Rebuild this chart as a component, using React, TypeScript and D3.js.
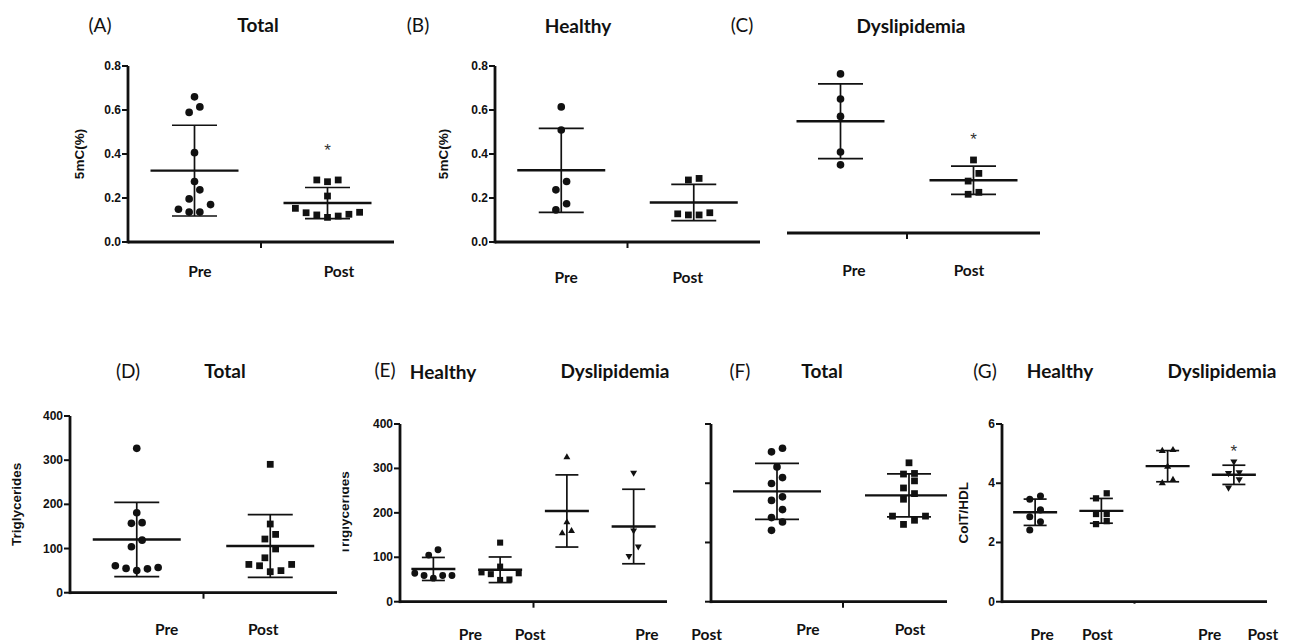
import React from "react";
import * as d3 from "d3";

// 5mC (%) — panels A, B, C
const mcTotalPre = [0.66, 0.614, 0.589, 0.406, 0.275, 0.237, 0.196, 0.17, 0.149, 0.136, 0.136];
const mcTotalPost = [0.282, 0.282, 0.274, 0.209, 0.153, 0.135, 0.133, 0.126, 0.123, 0.118, 0.112];
const mcHealthyPre = [0.614, 0.509, 0.275, 0.237, 0.174, 0.146];
const mcHealthyPost = [0.289, 0.282, 0.133, 0.123, 0.123, 0.128];
const mcDysPre = [0.723, 0.609, 0.53, 0.368, 0.31];
const mcDysPost = [0.332, 0.271, 0.236, 0.185, 0.176];

// Triglycerides — panels D, E
const tgTotalPre = [326.8, 181, 158.5, 157, 119, 104, 61, 55, 50, 54, 57];
const tgTotalPost = [290.6, 155.5, 132, 121.5, 99, 79, 64, 61, 64, 47.5, 50];
const tgHealthyPre = [117, 105, 64, 59, 53, 59, 59];
const tgHealthyPost = [133, 79, 66, 62, 64, 50, 49];
const tgDysPre = [325, 179, 154, 159];
const tgDysPost = [290, 160, 124, 103];

// ColT/HDL — panels F, G
const chTotalPre = [5.18, 5.06, 4.55, 4.19, 3.99, 3.42, 3.54, 3.11, 2.69, 2.84, 2.41];
const chTotalPost = [4.69, 4.33, 4.31, 4.08, 3.84, 3.65, 3.46, 2.89, 2.89, 2.75, 2.61];
const chHealthyPre = [3.46, 3.57, 3.1, 2.87, 2.7, 2.42];
const chHealthyPost = [3.66, 3.49, 2.96, 2.96, 2.62, 2.72];
const chDysPre = [5.09, 5.12, 4.56, 4.0, 4.11];
const chDysPost = [4.73, 4.37, 4.34, 4.13, 3.85];

// significance marks (y level of the "*")
const starTotalPost = 0.436;
const starDysPost = 0.445;
const starChDysPost = 5.21;

const mcTicks = [0, 0.2, 0.4, 0.6, 0.8];
const tgTicks = [0, 100, 200, 300, 400];
const chTicks = [0, 2, 4, 6];
const timeLabels = ["Pre", "Post"];

const INK = "#111";
const TEXT_FONT = "Lato, 'Open Sans', sans-serif";
const AXIS_FONT = "'Liberation Sans', Arial, sans-serif";

const shapes: any = {
  circle: d3.symbolCircle,
  square: d3.symbolSquare,
  triangle: d3.symbolTriangle,
  down: d3.symbolTriangle,
};
const shapeSize: any = { circle: 46, square: 46, triangle: 26, down: 26 };

// GraphPad-like scatter: bin points into rows, spread each row sideways
function rowOffsets(values: number[], y: (v: number) => number, rowH: number, step: number) {
  const idx = d3.range(values.length).sort((a, b) => values[a] - values[b]);
  const out = new Array(values.length).fill(0);
  let row: number[] = [];
  const flush = () => {
    const n = row.length;
    row.forEach((id, r) => {
      let k: number;
      if (n % 2 === 1) k = r === 0 ? 0 : r % 2 === 1 ? (r + 1) / 2 : -r / 2;
      else k = (r % 2 === 0 ? -1 : 1) * (Math.floor(r / 2) + 0.5);
      out[id] = k * step;
    });
    row = [];
  };
  idx.forEach((id) => {
    if (row.length && y(values[row[0]]) - y(values[id]) >= rowH) flush();
    row.push(id);
  });
  flush();
  return out;
}

type Group = { key: string; values: number[]; shape: string; star?: number };

const panels: any[] = [
  {
    id: "A",
    groups: [
      { key: "Pre", values: mcTotalPre, shape: "circle" },
      { key: "Post", values: mcTotalPost, shape: "square", star: starTotalPost },
    ],
    xRange: [128, 394], axisTo: 394, yDomain: [0, 0.8], yRange: [242, 66],
    ticks: mcTicks, fmt: d3.format(".1f"), yLabel: "5mC(%)", yLabelX: 79,
    labels: timeLabels, labelDx: [5.5, 11.5], labelY: 277,
    meanHalf: 44, capHalf: 22.5, step: 10.7, scale: 1, midTick: 6,
  },
  {
    id: "B",
    groups: [
      { key: "Pre", values: mcHealthyPre, shape: "circle" },
      { key: "Post", values: mcHealthyPost, shape: "square" },
    ],
    xRange: [495, 760], axisTo: 760, yDomain: [0, 0.8], yRange: [242, 66],
    ticks: mcTicks, fmt: d3.format(".1f"), yLabel: "5mC(%)", yLabelX: 443,
    labels: timeLabels, labelDx: [5, -6], labelY: 283,
    meanHalf: 44, capHalf: 22.5, step: 10.7, scale: 1, midTick: 6,
  },
  {
    id: "C",
    groups: [
      { key: "Pre", values: mcDysPre, shape: "circle" },
      { key: "Post", values: mcDysPost, shape: "square", star: starDysPost },
    ],
    xRange: [774, 1040], axisFrom: 787, axisTo: 1040, yDomain: [0, 0.8], yRange: [233, 57],
    noYAxis: true,
    labels: timeLabels, labelDx: [13.5, -4.5], labelY: 276,
    meanHalf: 44, capHalf: 22.5, step: 10.7, scale: 1, midTick: 6,
  },
  {
    id: "D",
    groups: [
      { key: "Pre", values: tgTotalPre, shape: "circle" },
      { key: "Post", values: tgTotalPost, shape: "square" },
    ],
    xRange: [70, 337], axisTo: 337, yDomain: [0, 400], yRange: [592.7, 416],
    ticks: tgTicks, fmt: d3.format("d"), yLabel: "Triglycerides", yLabelX: 16,
    labels: timeLabels, labelDx: [30, -7], labelY: 635,
    meanHalf: 44, capHalf: 22.5, step: 10.7, scale: 1, midTick: 6,
  },
  {
    id: "E",
    groups: [
      { key: "HPre", values: tgHealthyPre, shape: "circle" },
      { key: "HPost", values: tgHealthyPost, shape: "square" },
      { key: "DPre", values: tgDysPre, shape: "triangle" },
      { key: "DPost", values: tgDysPost, shape: "down" },
    ],
    xRange: [400, 667], axisTo: 667, yDomain: [0, 400], yRange: [601.7, 424],
    ticks: tgTicks, fmt: d3.format("d"), yLabel: "Triglycerides", yLabelX: 344.3, yLabelClip: 342.5,
    labels: [...timeLabels, ...timeLabels], labelDx: [37, 30, 80, 73], labelY: 640,
    meanHalf: 22, capHalf: 11.5, step: 9.3, scale: 0.8, midTick: 6,
  },
  {
    id: "F",
    groups: [
      { key: "Pre", values: chTotalPre, shape: "circle" },
      { key: "Post", values: chTotalPost, shape: "square" },
    ],
    xRange: [711, 975], axisTo: 947, yDomain: [0, 6], yRange: [601.7, 424],
    ticks: chTicks, noTickLabels: true,
    labels: timeLabels, labelDx: [31, 1], labelY: 635,
    meanHalf: 44, capHalf: 22, step: 11, scale: 1, midTick: 6, clipRight: 947,
  },
  {
    id: "G",
    groups: [
      { key: "HPre", values: chHealthyPre, shape: "circle" },
      { key: "HPost", values: chHealthyPost, shape: "square" },
      { key: "DPre", values: chDysPre, shape: "triangle" },
      { key: "DPost", values: chDysPost, shape: "down", star: starChDysPost },
    ],
    xRange: [1002, 1267], axisTo: 1267, yDomain: [0, 6], yRange: [601.7, 424],
    ticks: chTicks, fmt: d3.format("d"), yLabel: "ColT/HDL", yLabelX: 963,
    labels: [...timeLabels, ...timeLabels], labelDx: [7, -4, 42, 29], labelY: 640,
    meanHalf: 22, capHalf: 11.5, step: 10.7, scale: 0.85, midTick: 2,
  },
];

const titles = [
  { t: "(A)", x: 100, y: 32 }, { t: "Total", x: 258, y: 32, b: true },
  { t: "(B)", x: 418, y: 32 }, { t: "Healthy", x: 578, y: 33, b: true },
  { t: "(C)", x: 742, y: 32 }, { t: "Dyslipidemia", x: 911, y: 33, b: true },
  { t: "(D)", x: 128, y: 378 }, { t: "Total", x: 225, y: 378, b: true },
  { t: "(E)", x: 385, y: 377 }, { t: "Healthy", x: 443, y: 379, b: true },
  { t: "Dyslipidemia", x: 615, y: 378, b: true },
  { t: "(F)", x: 740, y: 378 }, { t: "Total", x: 822, y: 378, b: true },
  { t: "(G)", x: 985, y: 378 }, { t: "Healthy", x: 1060, y: 378, b: true },
  { t: "Dyslipidemia", x: 1222, y: 378, b: true },
];

function Panel({ cfg }: { cfg: any }) {
  const x = d3.scaleBand<string>().domain(cfg.groups.map((g: Group) => g.key)).range(cfg.xRange);
  const y = d3.scaleLinear().domain(cfg.yDomain).range(cfg.yRange);
  const base = cfg.yRange[0];
  const x0 = cfg.xRange[0];
  const xMid = (cfg.xRange[0] + cfg.xRange[1]) / 2;
  const axisFrom = cfg.axisFrom ?? x0;
  const clipId = `clip-${cfg.id}`;

  return (
    <g>
      {cfg.clipRight && (
        <defs>
          <clipPath id={clipId}>
            <rect x={0} y={0} width={cfg.clipRight} height={642} />
          </clipPath>
        </defs>
      )}
      <g clipPath={cfg.clipRight ? `url(#${clipId})` : undefined}>
        {cfg.groups.map((g: Group) => {
          const cx = (x(g.key) as number) + x.bandwidth() / 2;
          const m = d3.mean(g.values) as number;
          const sd = d3.deviation(g.values) as number;
          const offs = rowOffsets(g.values, y, 9.5, cfg.step);
          const sym = d3.symbol().type(shapes[g.shape]).size(shapeSize[g.shape] * cfg.scale)() as string;
          return (
            <g key={g.key}>
              {g.values.map((v, i) => (
                <path
                  key={i}
                  d={sym}
                  fill={INK}
                  transform={`translate(${cx + offs[i]},${y(v)})${g.shape === "down" ? " rotate(180)" : ""}`}
                />
              ))}
              <line x1={cx} x2={cx} y1={y(m + sd)} y2={y(m - sd)} stroke={INK} strokeWidth={1.7} />
              <line x1={cx - cfg.capHalf} x2={cx + cfg.capHalf} y1={y(m + sd)} y2={y(m + sd)} stroke={INK} strokeWidth={1.7} />
              <line x1={cx - cfg.capHalf} x2={cx + cfg.capHalf} y1={y(m - sd)} y2={y(m - sd)} stroke={INK} strokeWidth={1.7} />
              <line x1={cx - cfg.meanHalf} x2={cx + cfg.meanHalf} y1={y(m)} y2={y(m)} stroke={INK} strokeWidth={2.4} />
              {g.star !== undefined && (
                <text x={cx} y={y(g.star) + 9.5} textAnchor="middle" fontFamily={AXIS_FONT} fontSize={17} fill="#333">
                  *
                </text>
              )}
            </g>
          );
        })}
      </g>

      {/* x axis */}
      <line x1={axisFrom} x2={cfg.axisTo} y1={base} y2={base} stroke={INK} strokeWidth={2.8} />
      <line x1={xMid} x2={xMid} y1={base} y2={base + cfg.midTick} stroke={INK} strokeWidth={2} />
      {cfg.labels.map((t: string, i: number) => {
        const key = cfg.groups[i].key;
        return (
          <text
            key={i}
            x={(x(key) as number) + x.bandwidth() / 2 + cfg.labelDx[i]}
            y={cfg.labelY}
            textAnchor="middle"
            fontFamily={TEXT_FONT}
            fontWeight="bold"
            fontSize={15.5}
            fill={INK}
          >
            {t}
          </text>
        );
      })}

      {/* y axis */}
      {!cfg.noYAxis && (
        <g>
          <line x1={x0} x2={x0} y1={y(cfg.yDomain[1])} y2={base + 1.4} stroke={INK} strokeWidth={2.8} />
          {cfg.ticks.map((t: number) => (
            <g key={t}>
              <line x1={x0 - 6} x2={x0} y1={y(t)} y2={y(t)} stroke={INK} strokeWidth={2} />
              {!cfg.noTickLabels && (
                <text
                  x={x0 - 7}
                  y={y(t)}
                  textAnchor="end"
                  dominantBaseline="central"
                  fontFamily={AXIS_FONT}
                  fontWeight="bold"
                  fontSize={12}
                  fill={INK}
                >
                  {cfg.fmt(t)}
                </text>
              )}
            </g>
          ))}
        </g>
      )}
      {cfg.yLabel && (
        <g>
          {cfg.yLabelClip && (
            <defs>
              <clipPath id={`${clipId}-lab`}>
                <rect x={cfg.yLabelClip} y={0} width={200} height={642} />
              </clipPath>
            </defs>
          )}
          <g clipPath={cfg.yLabelClip ? `url(#${clipId}-lab)` : undefined}>
            <text
              transform={`translate(${cfg.yLabelX},${(cfg.yRange[0] + cfg.yRange[1]) / 2}) rotate(-90)`}
              textAnchor="middle"
              dominantBaseline="central"
              fontFamily={AXIS_FONT}
              fontWeight="bold"
              fontSize={13.5}
              fill={INK}
            >
              {cfg.yLabel}
            </text>
          </g>
        </g>
      )}
    </g>
  );
}

export default function App() {
  return (
    <svg
      width={1293}
      height={642}
      viewBox="0 0 1293 642"
      style={{ position: "absolute", left: 0, top: 0, background: "#fff" }}
    >
      {panels.map((p) => (
        <Panel key={p.id} cfg={p} />
      ))}
      {titles.map((d, i) => (
        <text
          key={i}
          x={d.x}
          y={d.y}
          textAnchor="middle"
          fontFamily={TEXT_FONT}
          fontWeight={d.b ? "bold" : "normal"}
          fontSize={19}
          fill={INK}
        >
          {d.t}
        </text>
      ))}
    </svg>
  );
}
